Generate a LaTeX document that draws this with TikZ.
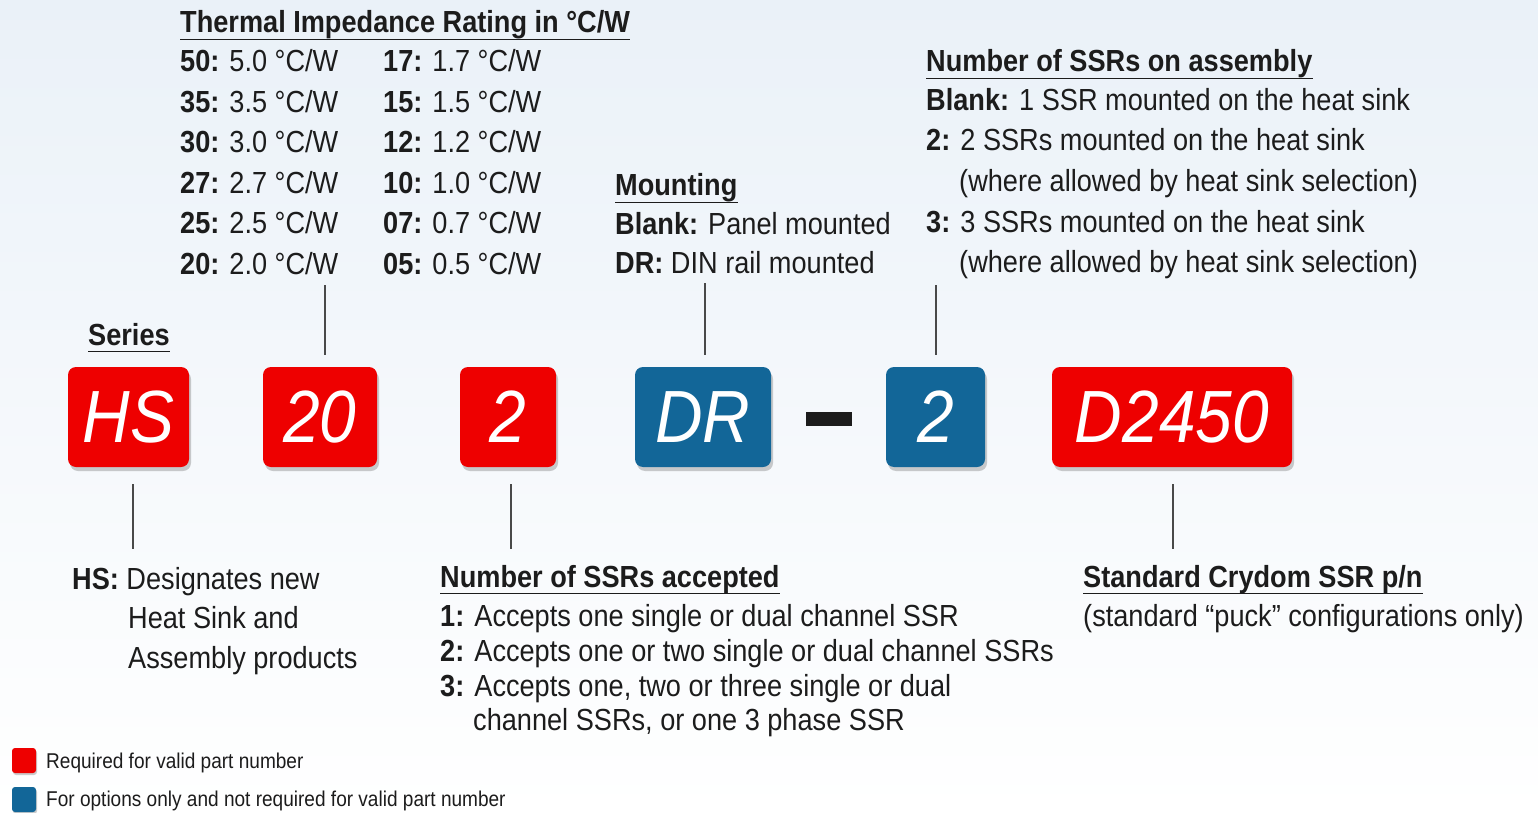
\documentclass[tikz,border=0pt]{standalone}
\usepackage{fontspec}
\setmainfont{Liberation Sans}[FakeStretch=0.89]
\usetikzlibrary{shadows}
\definecolor{partred}{RGB}{238,0,0}
\definecolor{partblue}{RGB}{18,102,152}
\definecolor{ink}{RGB}{28,28,28}
\definecolor{bgtop}{RGB}{234,241,248}
\tikzset{
  txt/.style={anchor=base west, inner sep=0pt, text=ink, font=\fontsize{30.5}{40}\selectfont},
  head/.style={txt, font=\fontsize{30.5}{40}\selectfont\bfseries},
  legtxt/.style={txt, font=\fontsize{21.4}{26}\selectfont},
  part/.style={rounded corners=8pt, minimum height=100pt, inner sep=0pt, text=white,
    font=\fontsize{74}{80}\selectfont\itshape,
    drop shadow={shadow xshift=2pt, shadow yshift=-4pt, opacity=0.4}},
  key/.style={rounded corners=3pt, minimum width=24pt, minimum height=25pt, inner sep=0pt,
    drop shadow={shadow xshift=1pt, shadow yshift=-2pt, opacity=0.4}},
  tick/.style={line width=2pt, ink!80},
  uline/.style={line width=1.6pt, ink}
}
\newcommand{\kv}[2]{\textbf{#1:} #2}
\newcommand{\uln}[1]{\draw[uline] ([yshift=-6.5pt]#1.base west) -- ([yshift=-6.5pt]#1.base east);}
\begin{document}
\begin{tikzpicture}[x=1pt,y=-1pt]
  \useasboundingbox (0,0) rectangle (1538,813);
  \shade[top color=bgtop, bottom color=white] (0,0) rectangle (1538,813);

  % part number boxes
  \node[part, fill=partred, minimum width=121pt] (hs) at (128.5,417) {HS};
  \node[part, fill=partred, minimum width=114pt] (b20) at (320,417) {20};
  \node[part, fill=partred, minimum width=96pt] (b2) at (508,417) {2};
  \node[part, fill=partblue, minimum width=136pt] (dr) at (703,417) {DR};
  \node[fill=ink, minimum width=46pt, minimum height=14pt, inner sep=0pt] (dash) at (829,419) {};
  \node[part, fill=partblue, minimum width=99pt] (n2) at (935.5,417) {2};
  \node[part, fill=partred, minimum width=240pt] (ssr) at (1172,417) {D2450};

  % thermal impedance
  \node[head] (th) at (180,33) {Thermal Impedance Rating in °C/W};
  \uln{th}
  \foreach \a/\b/\c/\d [count=\i] in {50/5.0/17/1.7, 35/3.5/15/1.5, 30/3.0/12/1.2,
      27/2.7/10/1.0, 25/2.5/07/0.7, 20/2.0/05/0.5} {
    \node[txt] (tl\i) at (180,{72+40.4*(\i-1)}) {\kv{\a}{\b{} °C/W}};
    \node[txt] (tr\i) at (383,{72+40.4*(\i-1)}) {\kv{\c}{\d{} °C/W}};
  }

  % mounting
  \node[head] (mh) at (615,196) {Mounting};
  \uln{mh}
  \node[txt] (m1) at (615,234) {\kv{Blank}{Panel mounted}};
  \node[txt] (m2) at (615,273) {\kv{DR}{DIN rail mounted}};

  % SSRs on assembly
  \node[head] (ah) at (926,72) {Number of SSRs on assembly};
  \uln{ah}
  \node[txt] (a1) at (926,111) {\kv{Blank}{1 SSR mounted on the heat sink}};
  \node[txt] (a2) at (926,151) {\kv{2}{2 SSRs mounted on the heat sink}};
  \node[txt] (a3) at (959,192) {(where allowed by heat sink selection)};
  \node[txt] (a4) at (926,232) {\kv{3}{3 SSRs mounted on the heat sink}};
  \node[txt] (a5) at (959,272) {(where allowed by heat sink selection)};

  \node[head] (sh) at (88,345) {Series};
  \uln{sh}

  % series text
  \node[txt] (h1) at (72,589) {\kv{HS}{Designates new}};
  \node[txt] (h2) at (128,628) {Heat Sink and};
  \node[txt] (h3) at (128,668) {Assembly products};

  % SSRs accepted
  \node[head] (ch) at (440,587) {Number of SSRs accepted};
  \uln{ch}
  \node[txt] (c1) at (440,626) {\kv{1}{Accepts one single or dual channel SSR}};
  \node[txt] (c2) at (440,661) {\kv{2}{Accepts one or two single or dual channel SSRs}};
  \node[txt] (c3) at (440,696) {\kv{3}{Accepts one, two or three single or dual}};
  \node[txt] (c4) at (473,730) {channel SSRs, or one 3 phase SSR};

  % crydom p/n
  \node[head] (ph) at (1083,587) {Standard Crydom SSR p/n};
  \uln{ph}
  \node[txt] (p1) at (1083,626) {(standard “puck” configurations only)};

  % ticks
  \draw[tick] ([xshift=5pt,yshift=12pt]b20.north) -- ([xshift=5pt,yshift=82pt]b20.north);
  \draw[tick] ([xshift=2pt,yshift=12pt]dr.north) -- ([xshift=2pt,yshift=84pt]dr.north);
  \draw[tick] ([yshift=12pt]n2.north) -- ([yshift=82pt]n2.north);
  \draw[tick] ([xshift=4pt,yshift=-17pt]hs.south) -- ([xshift=4pt,yshift=-82pt]hs.south);
  \draw[tick] ([xshift=3pt,yshift=-17pt]b2.south) -- ([xshift=3pt,yshift=-82pt]b2.south);
  \draw[tick] ([xshift=1pt,yshift=-17pt]ssr.south) -- ([xshift=1pt,yshift=-82pt]ssr.south);

  % legend
  \node[key, fill=partred] (kr) at (24,760.5) {};
  \node[key, fill=partblue] (kb) at (24,799.5) {};
  \node[legtxt] (lr) at (46,768) {Required for valid part number};
  \node[legtxt] (lb) at (46,806) {For options only and not required for valid part number};
\end{tikzpicture}
\end{document}
